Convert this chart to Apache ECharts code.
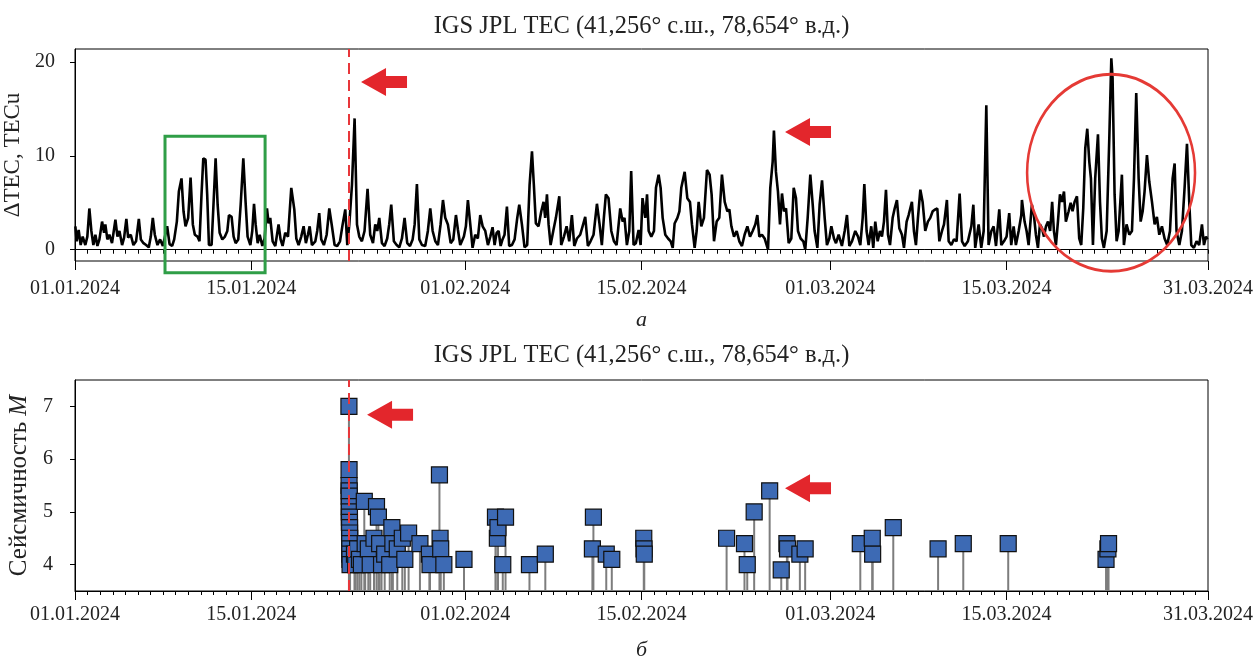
<!DOCTYPE html>
<html>
<head>
<meta charset="utf-8">
<title>IGS JPL TEC</title>
<script src="https://cdn.jsdelivr.net/npm/echarts@6/dist/echarts.min.js"></script>
<style>
html, body { margin: 0; padding: 0; background: #fff; }
#chart { width: 1257px; height: 657px; }
</style>
</head>
<body>
<div id="chart"></div>
<script>
// days since 01.01.2024 00:00 UT
const tecDay = [
  0.03, 0.13, 0.29, 0.45, 0.61, 0.82, 0.98, 1.14, 1.30, 1.46, 1.62, 1.78, 1.94, 2.15, 2.31, 2.41, 2.57, 2.73, 2.94,
  3.21, 3.37, 3.53, 3.74, 3.90, 4.08, 4.22, 4.43, 4.64, 4.85, 5.07, 5.23, 5.44, 5.65, 5.86, 6.02, 6.18, 6.34, 6.55,
  6.76, 6.98, 7.32, 7.51, 7.72, 7.88, 8.09, 8.25, 8.46, 8.62, 8.78, 8.99, 9.18, 9.36, 9.52, 9.73, 9.89, 10.05, 10.19,
  10.37, 10.50, 10.64, 10.85, 11.00, 11.17, 11.33, 11.49, 11.70, 11.91, 12.10, 12.23, 12.44, 12.60, 12.76, 12.97,
  13.16, 13.37, 13.55, 13.71, 13.93, 14.08, 14.22, 14.35, 14.51, 14.67, 14.88,
  15.06, 15.25, 15.38, 15.51, 15.70, 15.91, 16.17, 16.33, 16.49, 16.70, 16.92, 17.18, 17.42, 17.58, 17.76, 17.97,
  18.16, 18.34, 18.50, 18.64, 18.82, 19.09, 19.24, 19.40, 19.56, 19.77, 19.99, 20.20, 20.41, 20.62, 20.83, 21.05,
  21.26, 21.47, 21.63, 21.79, 22.00, 22.21, 22.40, 22.58, 22.79, 23.00, 23.24, 23.45, 23.67, 23.85, 24.01, 24.17,
  24.38, 24.59, 24.80, 24.96, 25.12, 25.33, 25.55, 25.76, 25.97, 26.18, 26.39, 26.61, 26.82, 26.98, 27.16, 27.35,
  27.56, 27.82, 28.03, 28.22, 28.41, 28.62, 28.83, 29.04, 29.23, 29.41, 29.62, 29.84,
  30.05, 30.26, 30.42, 30.60, 30.73, 30.89, 31.05, 31.21, 31.40, 31.58, 31.79, 32.00, 32.19, 32.38, 32.59, 32.80,
  32.99, 33.17, 33.33, 33.49, 33.65, 33.81, 33.96, 34.12, 34.31, 34.49, 34.71, 34.92, 35.13, 35.29, 35.50, 35.71,
  35.92, 36.11, 36.30, 36.45, 36.61, 36.82, 37.04, 37.22, 37.35, 37.49, 37.62, 37.78, 37.99, 38.20, 38.47, 38.62,
  38.84, 39.05, 39.26, 39.47, 39.66, 39.87, 40.13, 40.32, 40.53, 40.74, 40.95, 41.19, 41.46, 41.67, 41.85, 42.01,
  42.17, 42.38, 42.60, 42.81, 43.02, 43.31, 43.50, 43.65, 43.84, 44.03, 44.18, 44.37, 44.55, 44.77, 44.93, 45.08,
  45.17, 45.30, 45.44, 45.57, 45.78, 45.99, 46.15, 46.36, 46.52, 46.68, 46.89, 47.11, 47.32, 47.48, 47.63, 47.85,
  48.01, 48.16, 48.43, 48.64, 48.85, 49.01, 49.22, 49.38, 49.54, 49.75, 49.96, 50.20, 50.41, 50.57, 50.76, 50.97,
  51.18, 51.39, 51.61, 51.82, 51.98, 52.14, 52.35, 52.56, 52.77, 52.98, 53.19, 53.41, 53.62, 53.83, 54.04, 54.20,
  54.36, 54.57, 54.78, 55.05, 55.23, 55.42, 55.52, 55.68, 55.84, 56.00, 56.16, 56.32, 56.48, 56.69, 56.90, 57.09,
  57.27, 57.43, 57.64, 57.85, 58.01, 58.20, 58.41, 58.60, 58.75, 58.97, 59.15, 59.34, 59.55, 59.73, 59.92, 60.08,
  60.29, 60.45, 60.66, 60.92, 61.14, 61.32, 61.51, 61.72, 61.98, 62.20, 62.38, 62.57, 62.70, 62.88, 63.04, 63.25,
  63.41, 63.57, 63.76, 63.94, 64.10, 64.26, 64.42, 64.58, 64.74, 64.95, 65.11, 65.29, 65.48, 65.69, 65.85, 66.06,
  66.22, 66.48, 66.64, 66.80, 66.96, 67.15, 67.33, 67.54, 67.75, 67.94, 68.13, 68.34, 68.50, 68.66, 68.87, 69.03,
  69.26, 69.40, 69.61, 69.82, 70.03, 70.27, 70.46, 70.67, 70.93, 71.20, 71.36, 71.51, 71.78, 71.99, 72.18, 72.39,
  72.57, 72.79, 72.97, 73.16, 73.42, 73.58, 73.79, 74.00, 74.21, 74.37, 74.56, 74.74, 74.96, 75.17,
  75.22, 75.43, 75.59, 75.75, 75.88, 76.01, 76.17, 76.33, 76.49, 76.65, 76.81, 76.97, 77.13, 77.29, 77.46, 77.62,
  77.76, 77.92, 78.08, 78.24, 78.40, 78.56, 78.71, 78.93, 79.09, 79.24, 79.40, 79.59, 79.77, 79.93, 80.09, 80.25,
  80.41, 80.57, 80.70, 80.86, 81.04, 81.26, 81.42, 81.57, 81.73, 81.95, 82.16, 82.32, 82.42, 82.58, 82.74, 82.90,
  83.16, 83.32, 83.53, 83.75, 83.96, 84.12, 84.30, 84.49, 84.65, 84.81, 84.96, 85.15, 85.33, 85.55, 85.76, 85.94,
  86.13, 86.34, 86.55, 86.76, 86.98, 87.19, 87.35, 87.50, 87.72, 87.93, 88.14, 88.33, 88.51, 88.67, 88.88, 89.09,
  89.30, 89.52, 89.68, 89.84, 89.95
]
// ΔTEC, TECu
const tecVal = [
  2.5, 0.9, 2.1, 0.5, 1.4, 0.5, 1.4, 4.4, 2.0, 0.5, 1.6, 0.4, 1.1, 3.0, 1.8, 2.7, 1.1, 1.6, 0.7,
  3.2, 1.4, 2.0, 0.5, 1.3, 3.3, 1.3, 1.6, 0.5, 0.9, 3.3, 1.1, 0.7, 0.5, 0.25, 1.4, 3.4, 1.6, 0.5,
  1.1, 0.4, 2.5, 0.6, 0.4, 1.1, 3.0, 6.2, 7.6, 4.1, 2.5, 3.4, 7.7, 2.7, 1.6, 1.4, 0.9, 5.9, 9.75,
  9.6, 5.9, 0.5, 0.5, 4.8, 9.75, 4.8, 1.8, 1.1, 1.4, 2.0, 3.7, 3.5, 1.4, 0.7, 1.1,
  4.8, 9.75, 5.1, 1.4, 0.5, 2.0, 4.9, 2.7, 0.7, 1.6, 0.4,
  1.2, 4.4, 2.8, 3.4, 0.9, 0.4, 2.7, 1.1, 0.4, 1.8, 1.4, 6.6, 4.3, 1.2, 0.5, 1.4,
  2.5, 0.7, 1.6, 2.5, 0.5, 0.9, 2.0, 3.9, 1.1, 0.5, 1.6, 4.4, 2.5, 0.5, 0.4, 0.9,
  2.7, 4.3, 0.5, 2.7, 6.9, 14.0, 2.7, 1.4, 0.9, 2.0, 6.5, 1.6, 0.7, 2.7, 2.0, 3.4,
  0.7, 0.4, 1.2, 2.7, 4.8, 0.9, 0.5, 0.25, 1.2, 3.4, 0.7, 0.4, 1.1, 2.7, 7.0, 1.1,
  0.5, 0.4, 2.0, 4.4, 2.0, 0.9, 0.5, 2.7, 5.3, 3.4, 2.7, 0.7,
  1.1, 3.7, 2.1, 0.5, 0.9, 1.4, 2.5, 5.3, 2.7, 0.2, 1.6, 1.2, 3.7, 2.5, 2.0, 0.5,
  1.4, 2.4, 0.5, 1.8, 2.0, 0.4, 1.1, 1.6, 4.6, 0.4, 0.5, 1.1, 3.4, 4.8, 2.7, 0.25,
  0.5, 6.9, 10.5, 6.9, 2.8, 2.5, 4.1, 5.1, 3.4, 5.9, 2.7, 0.5, 2.0, 3.4, 5.7, 0.5,
  1.4, 2.5, 0.9, 3.7, 0.4, 1.2, 1.6, 2.5, 3.5, 0.4, 0.9, 1.6, 4.9, 2.7, 0.5, 3.4,
  5.9, 5.5, 2.0, 0.9, 0.5, 4.4, 3.0, 3.4, 0.5, 2.0, 8.4, 0.5, 0.7, 2.1, 0.5, 5.5,
  5.7, 3.4, 5.9, 2.0, 1.4, 2.0, 6.6, 8.0, 6.6, 3.4, 1.6, 1.2, 0.9, 0.2, 2.8, 3.4,
  4.1, 6.6, 8.3, 5.5, 5.1, 2.7, 0.2, 2.0, 5.1, 2.5, 3.4, 8.5, 8.0, 5.9, 0.9, 3.0,
  3.4, 8.0, 5.1, 4.1, 4.3, 2.5, 1.4, 2.0, 0.9, 0.4, 1.6, 2.5, 1.4, 2.0, 2.7, 3.7,
  1.4, 1.6, 1.2, 0.0, 6.6, 9.4, 12.7, 8.3, 6.2, 2.7, 6.0, 4.1, 4.4, 0.7, 1.2, 6.6,
  5.5, 2.0, 1.2, 0.9, 0.0, 3.4, 8.0, 4.8, 2.0, 0.2, 4.8, 7.4, 3.4, 0.5, 1.2, 2.5,
  1.2, 0.7, 1.6, 0.4, 2.0, 3.7, 0.4, 0.9, 2.0, 1.4, 0.5, 3.4, 7.0, 2.0, 0.5, 2.5,
  0.2, 3.0, 0.9, 2.0, 1.4, 3.0, 6.4, 1.6, 0.5, 3.4, 4.4, 5.3, 2.3, 1.6, 0.2, 3.0,
  3.7, 5.1, 2.0, 0.5, 3.4, 6.4, 5.1, 2.0, 3.0, 3.4, 4.1, 4.3, 4.4, 0.9, 2.0, 2.7,
  5.3, 0.9, 0.5, 1.1, 0.9, 6.0, 0.9, 0.4, 0.9, 2.5, 4.8, 0.2, 2.7, 0.2, 2.0, 15.4,
  0.5, 2.0, 2.5, 0.4, 4.3, 0.5, 0.9, 1.4, 3.9, 0.5, 2.5, 0.5, 2.0, 3.7,
  5.3, 3.0, 2.0, 0.5, 2.7, 4.8, 3.7, 1.6, 0.2, 2.7, 2.3, 1.4, 2.5, 3.0, 2.0, 5.1,
  2.0, 0.5, 3.0, 5.9, 5.1, 6.2, 3.0, 4.1, 5.0, 4.1, 5.1, 5.7, 1.2, 0.5, 4.4, 10.8,
  12.9, 9.4, 7.6, 0.5, 7.6, 12.3, 5.1, 1.2, 0.2, 2.0, 11.9, 20.4, 18.3, 5.9, 0.9, 2.0,
  8.0, 0.5, 2.7, 1.6, 2.0, 7.6, 16.7, 7.6, 3.0, 4.1, 6.2, 10.1, 7.3, 5.1, 2.7, 3.5,
  1.6, 2.5, 1.2, 0.5, 2.0, 7.6, 9.2, 2.0, 0.5, 2.0, 6.6, 11.3, 5.1, 0.5, 0.2, 0.9,
  0.5, 2.7, 0.5, 1.4, 1.1
]

// earthquakes: day since 01.01.2024 and magnitude
const eqDay = [
  21.76, 21.77, 21.77, 21.78, 21.78, 21.79, 21.79, 21.80, 21.80, 21.81, 21.81, 21.82, 21.82, 21.83, 21.83, 21.84,
  21.85, 22.20, 22.30, 22.45, 22.60, 22.75, 22.98, 23.05, 23.30, 23.45, 23.75, 23.95, 24.10, 24.20, 24.35, 24.60,
  25.00, 25.17, 25.25, 25.60, 26.00, 26.20, 26.50, 27.40, 28.15, 28.20, 28.95, 29.00, 29.05, 29.30, 30.90, 33.40,
  33.55, 33.60, 33.98, 34.20, 36.10, 37.36, 41.10, 41.18, 42.20, 42.64, 45.18, 45.20, 45.22, 51.76, 53.18, 53.40,
  53.95, 55.18, 56.10, 56.55, 56.60, 57.58, 58.00, 62.38, 63.33, 63.36, 65.00, 68.56, 70.56, 74.13, 81.90, 82.05,
  82.10
]
const eqMag = [
  7.0, 5.8, 5.5, 5.4, 5.3, 5.1, 5.0, 4.9, 4.8, 4.7, 4.6, 4.5, 4.4, 4.3, 4.2, 4.1,
  4.0, 4.2, 4.0, 4.3, 4.1, 4.0, 5.2, 4.4, 4.3, 4.0, 4.5, 5.1, 4.9, 4.4, 4.0, 4.2,
  4.0, 4.7, 4.4, 4.3, 4.5, 4.1, 4.6, 4.4, 4.2, 4.0, 5.7, 4.5, 4.3, 4.0, 4.1, 4.9,
  4.5, 4.7, 4.0, 4.9, 4.0, 4.2, 4.3, 4.9, 4.2, 4.1, 4.5, 4.3, 4.2, 4.5, 4.4, 4.0,
  5.0, 5.4, 3.9, 4.4, 4.3, 4.2, 4.3, 4.4, 4.5, 4.2, 4.7, 4.3, 4.4, 4.4, 4.1, 4.3,
  4.4
]

const dateTicks = [0, 14, 31, 45, 60, 74, 90]
const dateLabels = ['01.01.2024', '15.01.2024', '01.02.2024', '15.02.2024', '01.03.2024', '15.03.2024', '31.03.2024']
const tecTicks = [0, 10, 20]
const magTicks = [4, 5, 6, 7]
const mainShockDay = 21.76
const tecArrows = [[22.72, 17.87], [56.4, 12.55]]
const magArrows = [[23.2, 6.84], [56.4, 5.45]]

const title = 'IGS JPL TEC (41,256° с.ш., 78,654° в.д.)'
const serif = 'Liberation Serif'
const arrowPath = 'path://M0,14 L25,0 L25,8 L46,8 L46,20 L25,20 L25,28 Z'

const chart = echarts.init(document.getElementById('chart'))

function minorAxis (grid, name) {
  return {
    type: 'value', gridIndex: grid, position: 'bottom', min: 0, max: 90, interval: 1,
    axisLine: { show: true, lineStyle: { color: '#000', width: 1 } },
    axisTick: { show: true, length: 4, lineStyle: { color: '#000', width: 1 } },
    axisLabel: { show: false },
    splitLine: { show: false },
    name: name,
    nameLocation: 'middle',
    nameGap: 48,
    nameTextStyle: { fontFamily: serif, fontSize: 22, fontStyle: 'italic', color: '#222' }
  }
}
function majorAxis (grid, margin) {
  return {
    type: 'value', gridIndex: grid, position: 'bottom', offset: 0, min: 0, max: 90,
    axisLine: { show: false },
    axisTick: { show: true, customValues: dateTicks, length: 9, lineStyle: { color: '#000', width: 1 } },
    axisLabel: {
      customValues: dateTicks, margin: margin, fontFamily: serif, fontSize: 20, color: '#222',
      formatter: function (v) {
        const i = dateTicks.indexOf(Math.round(v))
        return i >= 0 ? dateLabels[i] : ''
      }
    },
    splitLine: { show: false }
  }
}

const tecData = tecDay.map((d, i) => [d, tecVal[i]])
const eqData = eqDay.map((d, i) => [d, eqMag[i]])

const option = {
  animation: false,
  backgroundColor: '#fff',
  textStyle: { fontFamily: serif },
  grid: [
    { left: 75, right: 49, top: 49, height: 212, outerBoundsMode: 'none', containLabel: false, show: true, borderColor: '#000', borderWidth: 1, backgroundColor: 'transparent' },
    { left: 75, right: 49, top: 380, height: 211, outerBoundsMode: 'none', containLabel: false, show: true, borderColor: '#000', borderWidth: 1, backgroundColor: 'transparent' }
  ],
  xAxis: [
    minorAxis(0, 'а'),
    majorAxis(0, 18),
    minorAxis(1, 'б'),
    majorAxis(1, 14)
  ],
  yAxis: [
    {
      type: 'value', gridIndex: 0, min: -1.2, max: 21.4,
      axisLine: { show: true, lineStyle: { color: '#000' } },
      axisTick: { show: true, customValues: tecTicks, length: 5, lineStyle: { color: '#000' } },
      axisLabel: { customValues: tecTicks, margin: 20, fontFamily: serif, fontSize: 20, color: '#222' },
      splitLine: { show: false },
      name: 'ΔTEC, TECu',
      nameLocation: 'middle',
      nameGap: 40,
      nameTextStyle: { fontFamily: serif, fontSize: 23, color: '#222' }
    },
    {
      type: 'value', gridIndex: 1, min: 3.5, max: 7.5,
      axisLine: { show: true, lineStyle: { color: '#000' } },
      axisTick: { show: true, customValues: magTicks, length: 5, lineStyle: { color: '#000' } },
      axisLabel: { customValues: magTicks, margin: 22, fontFamily: serif, fontSize: 20, color: '#222' },
      splitLine: { show: false },
      name: 'Сейсмичность {i|M}',
      nameLocation: 'middle',
      nameGap: 37,
      nameTextStyle: {
        fontFamily: serif, fontSize: 25, color: '#222',
        rich: { i: { fontFamily: serif, fontSize: 25, fontStyle: 'italic', color: '#222' } }
      }
    }
  ],
  series: [
    {
      name: 'TEC',
      type: 'line',
      xAxisIndex: 0, yAxisIndex: 0,
      data: tecData,
      showSymbol: false,
      lineStyle: { color: '#000', width: 2.6 },
      z: 3,
      markLine: {
        silent: true, symbol: 'none', label: { show: false },
        lineStyle: { color: '#e8363a', width: 2, type: [11, 6] },
        data: [{ xAxis: mainShockDay }]
      },
      markPoint: {
        silent: true, symbol: arrowPath, symbolSize: [46, 28], symbolOffset: ['50%', 0],
        itemStyle: { color: '#e3262c' }, label: { show: false },
        data: tecArrows.map(a => ({ coord: a }))
      }
    },
    {
      name: 'stems',
      type: 'custom',
      xAxisIndex: 2, yAxisIndex: 1,
      data: eqData,
      encode: { x: 0, y: 1 },
      z: 2,
      renderItem: function (params, api) {
        const top = api.coord([api.value(0), api.value(1)])
        const base = api.coord([api.value(0), 3.5])
        return {
          type: 'line',
          shape: { x1: top[0], y1: top[1], x2: base[0], y2: base[1] },
          style: { stroke: '#7d7d7d', lineWidth: 2 }
        }
      },
      markLine: {
        silent: true, symbol: 'none', label: { show: false },
        lineStyle: { color: '#e8363a', width: 2, type: [11, 6] },
        data: [{ xAxis: mainShockDay }]
      }
    },
    {
      name: 'M',
      type: 'scatter',
      xAxisIndex: 2, yAxisIndex: 1,
      data: eqData,
      symbol: 'rect',
      symbolSize: 16,
      z: 4,
      itemStyle: { color: '#3d6ab4', borderColor: '#111', borderWidth: 1.2, opacity: 1 },
      markPoint: {
        silent: true, symbol: arrowPath, symbolSize: [46, 28], symbolOffset: ['50%', 0],
        itemStyle: { color: '#e3262c' }, label: { show: false },
        data: magArrows.map(a => ({ coord: a }))
      }
    }
  ]
}
chart.setOption(option)

// annotations placed through the axes' own scales
const f0 = { xAxisIndex: 0, yAxisIndex: 0 }
const boxA = chart.convertToPixel(f0, [7.15, 12.1])
const boxB = chart.convertToPixel(f0, [15.1, -2.45])
const ellC = chart.convertToPixel(f0, [82.3, 8.2])
const ellE = chart.convertToPixel(f0, [82.3 + 6.67, 8.2 + 10.5])
const rx = ellE[0] - ellC[0]
const ry = ellC[1] - ellE[1]
const midX = (chart.convertToPixel({ xAxisIndex: 0 }, 0) + chart.convertToPixel({ xAxisIndex: 0 }, 90)) / 2

chart.setOption({
  graphic: [
    { type: 'text', x: midX, y: 27, style: { text: title, fontFamily: serif, fontSize: 24.5, fill: '#222', textAlign: 'center', textVerticalAlign: 'middle' } },
    { type: 'text', x: midX, y: 356, style: { text: title, fontFamily: serif, fontSize: 24.5, fill: '#222', textAlign: 'center', textVerticalAlign: 'middle' } },
    {
      type: 'rect', z: 100,
      shape: { x: boxA[0], y: boxA[1], width: boxB[0] - boxA[0], height: boxB[1] - boxA[1] },
      style: { fill: 'none', stroke: '#2f9e47', lineWidth: 3 }
    },
    {
      type: 'circle', z: 100, x: ellC[0], y: ellC[1], scaleX: rx / ry, scaleY: 1,
      shape: { cx: 0, cy: 0, r: ry },
      style: { fill: 'none', stroke: '#e53a35', lineWidth: 3, strokeNoScale: true }
    }
  ]
})
</script>
</body>
</html>
